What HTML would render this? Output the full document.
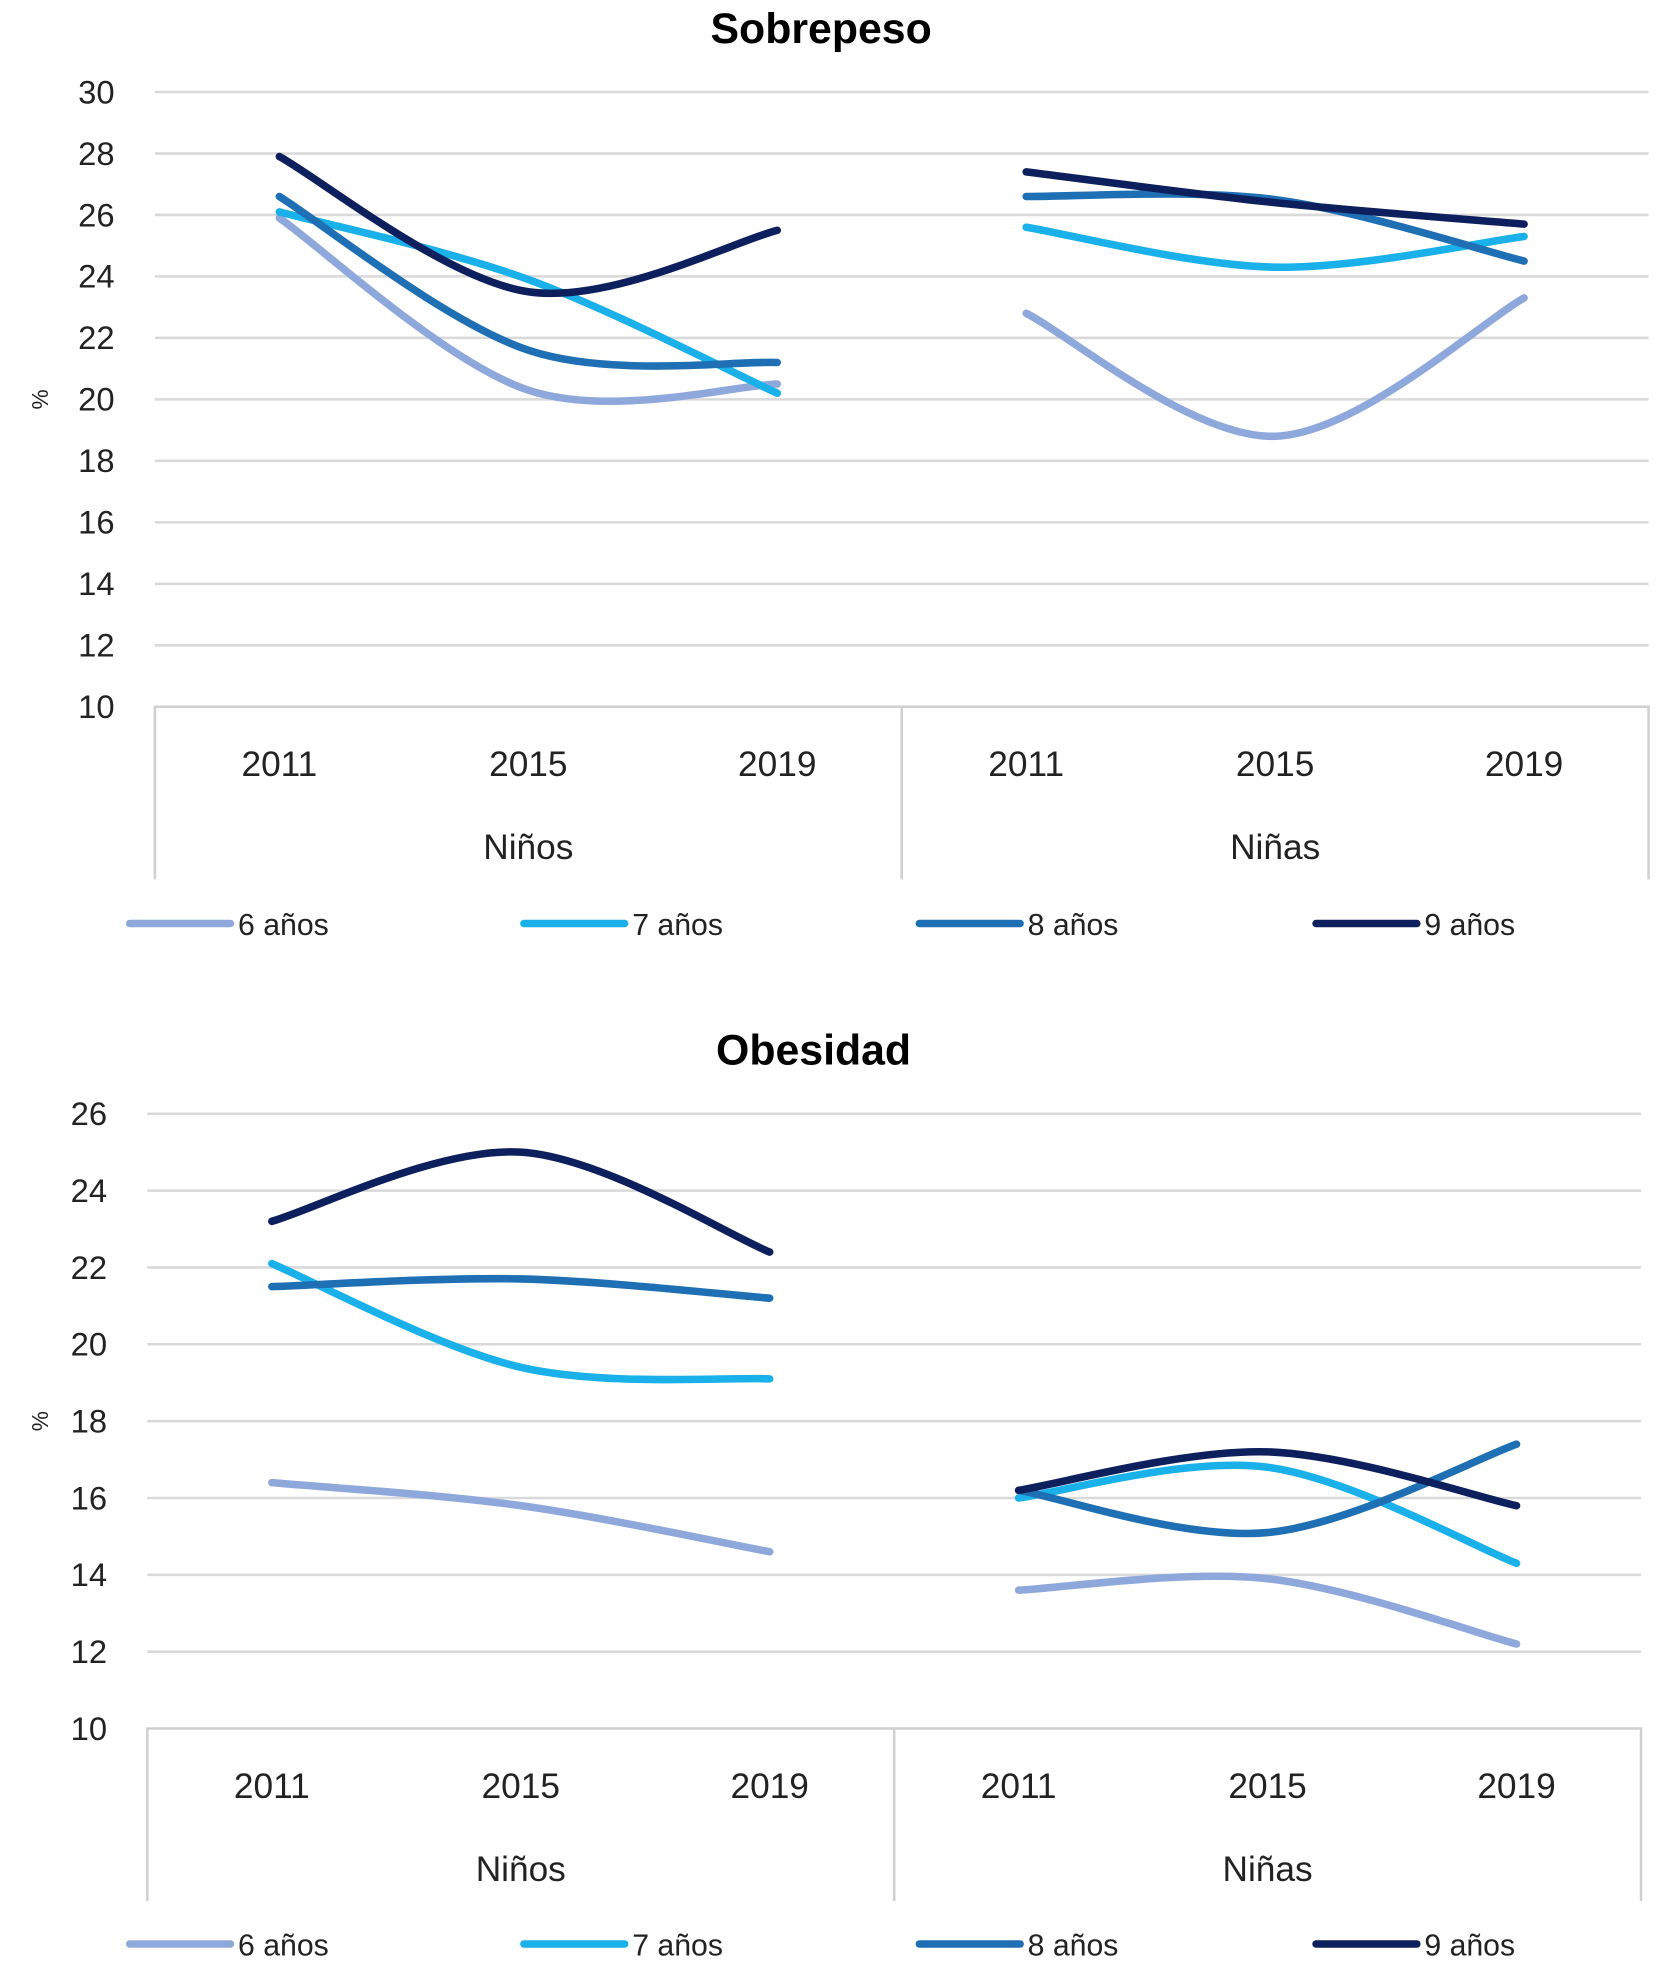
<!DOCTYPE html>
<html><head><meta charset="utf-8"><style>
html,body{margin:0;padding:0;background:#fff;}
svg{display:block;font-family:"Liberation Sans",sans-serif;}
</style></head><body>
<svg id="chart" width="1675" height="1978" viewBox="0 0 1330 1570" preserveAspectRatio="none" xmlns="http://www.w3.org/2000/svg"></svg>
<script>
const categories = ["2011","2015","2019"];
const groups = ["Niños","Niñas"];
const seriesNames = ["6 años","7 años","8 años","9 años"];
const colors = ["#8FA8DC","#1AB0EA","#1F6FB5","#0D1F5C"];
// Sobrepeso: [group][series][year]
const sobre6 = [[25.9,20.3,20.5],[22.8,18.8,23.3]];
const sobre7 = [[26.1,23.9,20.2],[25.6,24.3,25.3]];
const sobre8 = [[26.6,21.6,21.2],[26.6,26.5,24.5]];
const sobre9 = [[27.9,23.5,25.5],[27.4,26.4,25.7]];
const obes6 = [[16.4,15.8,14.6],[13.6,13.9,12.2]];
const obes7 = [[22.1,19.4,19.1],[16.0,16.8,14.3]];
const obes8 = [[21.5,21.7,21.2],[16.2,15.1,17.4]];
const obes9 = [[23.2,25.0,22.4],[16.2,17.2,15.8]];
const sobreTicks = [10,12,14,16,18,20,22,24,26,28,30];
const obesTicks = [10,12,14,16,18,20,22,24,26];

const NS="http://www.w3.org/2000/svg";
const svg=document.getElementById('chart');
function mk(tag,attrs,parent){const e=document.createElementNS(NS,tag);for(const k in attrs)e.setAttribute(k,attrs[k]);(parent||svg).appendChild(e);return e;}

function drawPanel(cfg){
  const g=mk('g',{});
  
  
  const yMin=cfg.ticks[0], yMax=cfg.ticks[cfg.ticks.length-1];
  const y=v=>cfg.bottom-(v-yMin)/(yMax-yMin)*(cfg.bottom-cfg.top);
  const mid=(cfg.left+cfg.right)/2;
  const gw=(cfg.right-cfg.left)/2;
  const x=(gi,ci)=>cfg.left+gi*gw+gw*(ci+0.5)/3;
  const t=mk('text',{x:cfg.titleX,y:cfg.titleY,'text-anchor':'middle','font-size':34,'font-weight':'bold',fill:'#000'},g);
  t.textContent=cfg.title;
  
  
  cfg.ticks.forEach(v=>{
    if(v!==yMin){const l=mk('line',{x1:cfg.left,x2:cfg.right,y1:y(v),y2:y(v),stroke:'#d9d9d9','stroke-width':2},g);
    
    }
    const tx=mk('text',{x:cfg.left-32,y:y(v)+9,'text-anchor':'end','font-size':26,fill:'#222'},g);
    tx.textContent=v;
    
    
  });
  const yl=mk('text',{x:0,y:0,'text-anchor':'middle','font-size':18,fill:'#222',transform:`translate(38,${y((yMin+yMax)/2)}) rotate(-90)`},g);
  yl.textContent='%';
  
  
  const ax=mk('path',{d:`M${cfg.left},${cfg.bottom+137}V${cfg.bottom}H${cfg.right}V${cfg.bottom+137}M${mid},${cfg.bottom}V${cfg.bottom+137}`,stroke:'#d0d0d0','stroke-width':2,fill:'none'},g);
  
  
  groups.forEach((gn,gi)=>{
    categories.forEach((c,ci)=>{
      const tx=mk('text',{x:x(gi,ci),y:cfg.bottom+55,'text-anchor':'middle','font-size':28,fill:'#222'},g);
      tx.textContent=c;
      
      
    });
    const gt=mk('text',{x:cfg.left+gi*gw+gw/2,y:cfg.bottom+121,'text-anchor':'middle','font-size':28,fill:'#222'},g);
    gt.textContent=gn;
    
    
  });
  cfg.series.forEach((s,si)=>{
    s.forEach((vals,gi)=>{
      const pts=vals.map((v,ci)=>[x(gi,ci),y(v)]);
      let d=`M${pts[0][0]},${pts[0][1]}`;
      for(let i=0;i<pts.length-1;i++){
        const p0=pts[Math.max(i-1,0)],p1=pts[i],p2=pts[i+1],p3=pts[Math.min(i+2,pts.length-1)];
        const k=1/6;
        d+=` C${p1[0]+(p2[0]-p0[0])*k},${p1[1]+(p2[1]-p0[1])*k} ${p2[0]-(p3[0]-p1[0])*k},${p2[1]-(p3[1]-p1[1])*k} ${p2[0]},${p2[1]}`;
      }
      const p=mk('path',{d:d,stroke:colors[si],'stroke-width':6,fill:'none','stroke-linecap':'round'},g);
      
      
    });
  });
  const lx=[103,416,730,1045];
  seriesNames.forEach((n,si)=>{
    const lg=mk('g',{},g);
    
    
    mk('line',{x1:lx[si],x2:lx[si]+80,y1:cfg.legendY,y2:cfg.legendY,stroke:colors[si],'stroke-width':6,'stroke-linecap':'round'},lg);
    const tx=mk('text',{x:lx[si]+86,y:cfg.legendY+9,'font-size':24,fill:'#222'},lg);
    tx.textContent=n;
  });
}
drawPanel({name:'sobrepeso',title:'Sobrepeso',titleX:652,titleY:34,top:73,bottom:561,left:123,right:1309,ticks:sobreTicks,legendY:733,series:[sobre6,sobre7,sobre8,sobre9]});
drawPanel({name:'obesidad',title:'Obesidad',titleX:646,titleY:845,top:884,bottom:1372,left:117,right:1303,ticks:obesTicks,legendY:1543,series:[obes6,obes7,obes8,obes9]});
</script>
</body></html>
